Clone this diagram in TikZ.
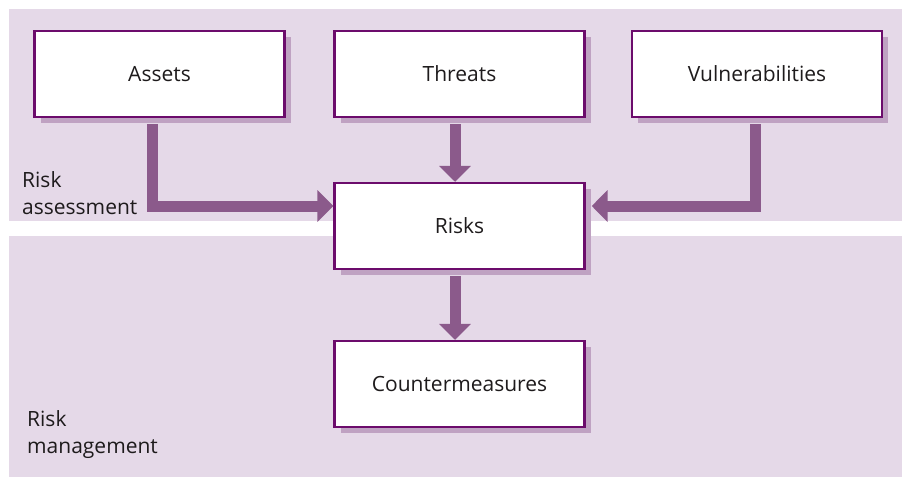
\documentclass[tikz,border=0pt]{standalone}
\usepackage{fontspec}
\setmainfont{Open Sans}
\usetikzlibrary{arrows.meta,shadows}
\definecolor{bandpurple}{RGB}{229,217,232}
\definecolor{boxpurple}{RGB}{108,12,108}
\definecolor{shadowpurple}{RGB}{191,162,194}
\definecolor{arrowpurple}{RGB}{139,90,139}
\definecolor{textgrey}{RGB}{30,27,28}

\begin{document}
\begin{tikzpicture}[x=1pt, y=-1pt,
  riskbox/.style={draw=boxpurple, line width=2.4pt, fill=white, minimum width=250pt, minimum height=86pt, inner sep=0pt, text=textgrey, font=\fontsize{21}{25}\selectfont, drop shadow={shadow xshift=6pt, shadow yshift=-6pt, fill=shadowpurple, opacity=1}},
  flow/.style={draw=arrowpurple, line width=11pt, line join=miter, -{Triangle[width=31pt, length=16pt]}},
  phase/.style={align=left, anchor=north west, inner sep=0pt, text=textgrey, font=\fontsize{21}{27}\selectfont}]
  \useasboundingbox (0,0) rectangle (902,479);
  % two phases
  \fill[bandpurple] (9,9) rectangle (902,221);
  \fill[bandpurple] (9,236) rectangle (902,477);
  \node[phase] (assesslabel) at (22,171) {Risk\\assessment};
  \node[phase] (managelabel) at (27,410) {Risk\\management};
  % boxes
  \node[riskbox] (assets) at (159.5,74) {Assets};
  \node[riskbox] (threats) at (459.5,74) {Threats};
  \node[riskbox] (vuln) at (757,74) {Vulnerabilities};
  \node[riskbox] (risks) at (459.5,226) {Risks};
  \node[riskbox] (counter) at (459.5,384) {Countermeasures};
  % arrows
  \draw[flow] ([xshift=-7.5pt, yshift=-6pt]assets.south) |- ([yshift=20pt]risks.west);
  \draw[flow] ([xshift=-4.5pt, yshift=-6pt]threats.south) -- ([xshift=-4.5pt]risks.north);
  \draw[flow] ([xshift=-2pt, yshift=-6pt]vuln.south) |- ([xshift=6pt, yshift=20pt]risks.east);
  \draw[flow] ([xshift=-4.5pt, yshift=-6pt]risks.south) -- ([xshift=-4.5pt]counter.north);
\end{tikzpicture}
\end{document}
